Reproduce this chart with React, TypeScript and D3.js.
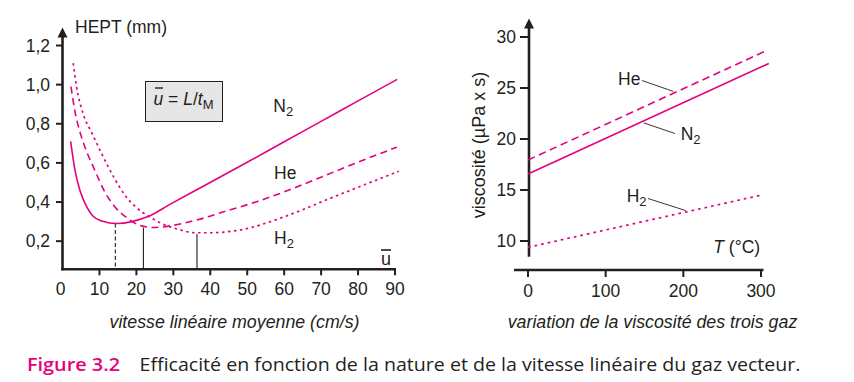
import React from 'react';
import * as d3 from 'd3';

// ---- Left chart data: HEPT (mm) vs mean linear velocity (cm/s)
const uN2 = [2.2, 3.4, 4.7, 6.6, 8.3, 10.6, 14.7, 18.8, 23.3, 28.7, 38.6, 50, 60, 70, 80, 90.6];
const hN2 = [0.71, 0.56, 0.46, 0.374, 0.327, 0.303, 0.29, 0.3, 0.327, 0.384, 0.486, 0.603, 0.708, 0.812, 0.917, 1.027];

const uHe = [2.3, 3.4, 4.7, 6.1, 8.8, 11.5, 14.2, 17.4, 21, 24.6, 28.7, 34.1, 38.2, 43.6, 52.6, 60, 70, 80, 90.5];
const hHe = [0.99, 0.86, 0.76, 0.68, 0.56, 0.45, 0.375, 0.32, 0.28, 0.27, 0.277, 0.298, 0.318, 0.35, 0.402, 0.452, 0.527, 0.604, 0.68];

const uH2 = [2.9, 3.8, 5.6, 7.9, 10.6, 13.8, 16.9, 20.1, 22.8, 26.9, 31.4, 35.9, 40, 48, 60.8, 72.6, 91];
const hH2 = [1.11, 0.99, 0.85, 0.755, 0.647, 0.53, 0.435, 0.37, 0.333, 0.29, 0.26, 0.243, 0.243, 0.257, 0.33, 0.42, 0.557];

// optimum velocities (vertical drop lines)
const uOpt = [14.3, 21.9, 36.4];
const hOpt = [0.29, 0.27, 0.236];
const optDashed = [true, false, false];

const xTicksL = [0, 10, 20, 30, 40, 50, 60, 70, 80, 90];
const yTicksL = [0.2, 0.4, 0.6, 0.8, 1.0, 1.2];

// ---- Right chart data: viscosity (µPa·s) vs temperature (°C)
const tN2 = [0, 310];
const vN2 = [16.57, 27.4];
const tHe = [0, 304];
const vHe = [17.94, 28.56];
const tH2 = [0, 301];
const vH2 = [9.38, 14.51];

const xTicksR = [0, 100, 200, 300];
const yTicksR = [10, 15, 20, 25, 30];

const MAG = '#e6007e';
const INK = '#231f20';
const FONT = '"Liberation Sans", Arial, Helvetica, sans-serif';

function Chem({ x, y, base, sub, size = 17.5 }: { x: number; y: number; base: string; sub: string; size?: number }) {
  return (
    <text x={x} y={y} fontSize={size} fill={INK} fontFamily={FONT}>
      {base}
      <tspan dy={4} fontSize={13}>{sub}</tspan>
    </text>
  );
}

export default function App() {
  const xL = d3.scaleLinear().domain([0, 90]).range([62.5, 395]);
  const yL = d3.scaleLinear().domain([0, 1.2]).range([280.3, 45.5]);
  const xR = d3.scaleLinear().domain([0, 300]).range([528, 761]);
  const yR = d3.scaleLinear().domain([10, 30]).range([241, 37]);

  const pathL = (us: number[], hs: number[]) =>
    d3
      .line<number>()
      .x((_, i) => xL(us[i]))
      .y((_, i) => yL(hs[i]))
      .curve(d3.curveMonotoneX)(us) || '';
  const pathR = (ts: number[], vs: number[]) =>
    d3
      .line<number>()
      .x((_, i) => xR(ts[i]))
      .y((_, i) => yR(vs[i]))(ts) || '';

  const vAt = (ts: number[], vs: number[], t: number) =>
    d3.scaleLinear().domain(ts).range(vs)(t);

  const axisY0L = 269.3;
  const axisXL = xL(0);
  const axisXR = xR(0) + 1;
  const axisY0R = 270;

  return (
    <div style={{ position: 'absolute', left: 0, top: 0 }}>
      <svg width={854} height={382} style={{ display: 'block', background: '#fff' }} fontFamily={FONT}>
        {/* ================= LEFT CHART ================= */}
        <line x1={axisXL} y1={36} x2={axisXL} y2={axisY0L + 1} stroke={INK} strokeWidth={2.6} />
        <polygon points={`${axisXL},27.5 ${axisXL - 5},37.5 ${axisXL + 5},37.5`} fill={INK} />
        <line x1={axisXL - 1.3} y1={axisY0L} x2={xL(90) + 1} y2={axisY0L} stroke={INK} strokeWidth={2.6} />
        {yTicksL.map((v) => (
          <g key={'yl' + v}>
            <line x1={axisXL - 6.5} x2={axisXL} y1={yL(v)} y2={yL(v)} stroke={INK} strokeWidth={2} />
            <text x={50} y={yL(v)} dy="0.36em" textAnchor="end" fontSize={17.5} fill={INK}>
              {d3.format('.1f')(v).replace('.', ',')}
            </text>
          </g>
        ))}
        {xTicksL.map((v) => (
          <g key={'xl' + v}>
            {v > 0 && <line x1={xL(v)} x2={xL(v)} y1={axisY0L} y2={axisY0L + 6} stroke={INK} strokeWidth={2} />}
            <text x={xL(v) - (v === 0 ? 2 : 0)} y={295} textAnchor="middle" fontSize={17.5} fill={INK}>
              {v}
            </text>
          </g>
        ))}
        <text x={75} y={33} fontSize={17.5} fill={INK}>HEPT (mm)</text>
        <text x={381} y={264.5} fontSize={18} fill={INK}>u</text>
        <line x1={381} x2={391} y1={250} y2={250} stroke={INK} strokeWidth={1.6} />
        <text x={234.5} y={328} textAnchor="middle" fontSize={17.8} fontStyle="italic" fill={INK}>
          vitesse linéaire moyenne (cm/s)
        </text>

        {/* box */}
        <rect x={145.5} y={81.5} width={77} height={40} fill="#e6e6e6" stroke={INK} strokeWidth={1} />
        <text x={153.5} y={104.5} fontSize={17.5} fill={INK}>
          <tspan fontStyle="italic">u</tspan>
          <tspan> = </tspan>
          <tspan fontStyle="italic">L</tspan>
          <tspan>/</tspan>
          <tspan fontStyle="italic">t</tspan>
          <tspan dy={4} fontSize={13}>M</tspan>
        </text>
        <line x1={155} x2={163} y1={88} y2={88} stroke={INK} strokeWidth={1.4} />

        {/* drop lines */}
        {uOpt.map((u, i) => (
          <line
            key={'opt' + i}
            x1={xL(u)}
            x2={xL(u)}
            y1={yL(hOpt[i])}
            y2={axisY0L}
            stroke={INK}
            strokeWidth={1.1}
            strokeDasharray={optDashed[i] ? '4,2.5' : undefined}
          />
        ))}

        {/* curves */}
        <path d={pathL(uN2, hN2)} fill="none" stroke={MAG} strokeWidth={1.6} />
        <path d={pathL(uHe, hHe)} fill="none" stroke={MAG} strokeWidth={1.6} strokeDasharray="7,4.5" />
        <path d={pathL(uH2, hH2)} fill="none" stroke={MAG} strokeWidth={1.7} strokeDasharray="2.5,3.5" />

        <Chem x={273.3} y={112.3} base="N" sub="2" />
        <text x={274} y={179} fontSize={17.5} fill={INK}>He</text>
        <Chem x={274} y={244.3} base="H" sub="2" />

        {/* ================= RIGHT CHART ================= */}
        <line x1={axisXR} y1={27} x2={axisXR} y2={256.7} stroke={INK} strokeWidth={2.6} />
        <polygon points={`${axisXR},18.5 ${axisXR - 5},28.5 ${axisXR + 5},28.5`} fill={INK} />
        {yTicksR.map((v) => (
          <g key={'yr' + v}>
            <line x1={axisXR - 9} x2={axisXR} y1={yR(v)} y2={yR(v)} stroke={INK} strokeWidth={2} />
            <text x={516} y={yR(v)} dy="0.36em" textAnchor="end" fontSize={17.5} fill={INK}>
              {v}
            </text>
          </g>
        ))}
        <line x1={514} x2={763.5} y1={axisY0R} y2={axisY0R} stroke={INK} strokeWidth={2.6} />
        {xTicksR.map((v) => (
          <g key={'xr' + v}>
            <line x1={xR(v)} x2={xR(v)} y1={axisY0R} y2={axisY0R + 7} stroke={INK} strokeWidth={2} />
            <text x={xR(v)} y={297} textAnchor="middle" fontSize={17.5} fill={INK}>
              {v}
            </text>
          </g>
        ))}
        <text transform="translate(485,145) rotate(-90)" textAnchor="middle" fontSize={18} fill={INK}>
          viscosité (µPa x s)
        </text>
        <text x={713.3} y={253.3} fontSize={17.5} fill={INK}>
          <tspan fontStyle="italic">T</tspan>
          <tspan> (°C)</tspan>
        </text>
        <text x={652.5} y={328.3} textAnchor="middle" fontSize={17.8} fontStyle="italic" fill={INK}>
          variation de la viscosité des trois gaz
        </text>

        <path d={pathR(tHe, vHe)} fill="none" stroke={MAG} strokeWidth={1.6} strokeDasharray="7.5,4.5" />
        <path d={pathR(tN2, vN2)} fill="none" stroke={MAG} strokeWidth={1.6} />
        <path d={pathR(tH2, vH2)} fill="none" stroke={MAG} strokeWidth={1.7} strokeDasharray="2.7,4" />

        {/* leader lines + labels */}
        <line x1={642} y1={80.5} x2={xR(187)} y2={yR(vAt(tHe, vHe, 187)) - 2} stroke={INK} strokeWidth={0.9} />
        <text x={618} y={85} fontSize={17.5} fill={INK}>He</text>
        <line x1={xR(149)} y1={yR(vAt(tN2, vN2, 149)) + 2} x2={675} y2={133.5} stroke={INK} strokeWidth={0.9} />
        <Chem x={680.7} y={140} base="N" sub="2" />
        <line x1={648} y1={198.5} x2={xR(203)} y2={yR(vAt(tH2, vH2, 203)) - 1.5} stroke={INK} strokeWidth={0.9} />
        <Chem x={626.7} y={201.7} base="H" sub="2" />

        {/* ================= CAPTION ================= */}
        <text
          x={27}
          y={371}
          fontFamily='"Open Sans", "Noto Sans", sans-serif'
          fontSize={18.8}
          fontWeight={600}
          fill={MAG}
          textLength={93}
          lengthAdjust="spacingAndGlyphs"
        >
          Figure 3.2
        </text>
        <text
          x={139.5}
          y={371}
          fontFamily='"Open Sans", "Noto Sans", sans-serif'
          fontSize={18.8}
          fill={INK}
          textLength={661}
          lengthAdjust="spacingAndGlyphs"
        >
          Efficacité en fonction de la nature et de la vitesse linéaire du gaz vecteur.
        </text>
      </svg>
    </div>
  );
}
